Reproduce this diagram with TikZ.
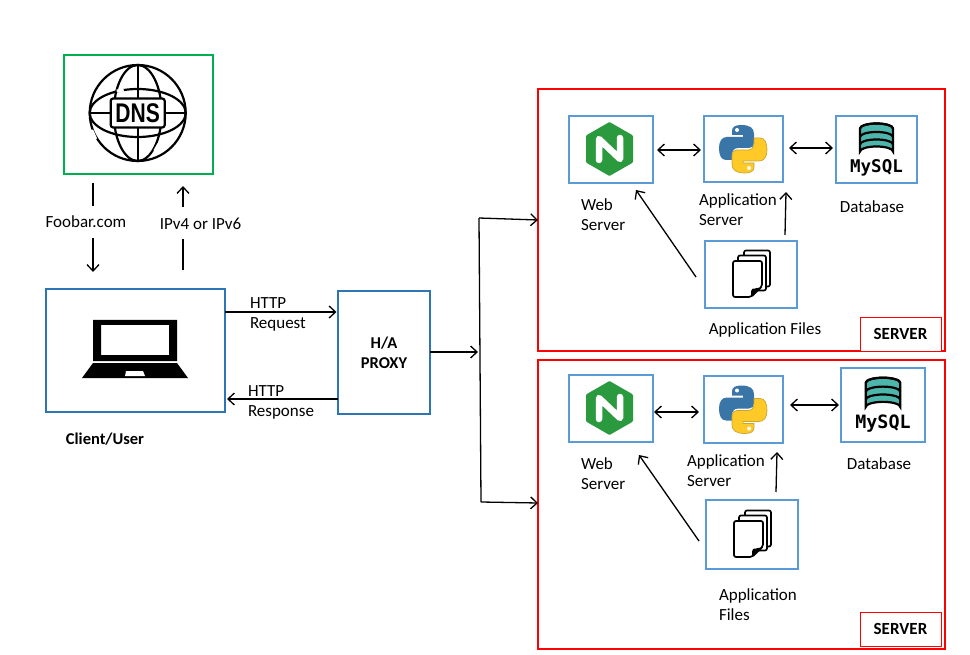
\documentclass[tikz,border=0pt]{standalone}
\usepackage{fontspec}
\setmainfont{Carlito}
\newfontfamily\dnsfont{Liberation Sans}
\newfontfamily\sqlfont{DejaVu Sans Mono}
\usetikzlibrary{arrows.meta,calc}
\definecolor{innerblue}{HTML}{5B9BD5}
\definecolor{outerblue}{HTML}{2E75B6}
\definecolor{dnsgreen}{HTML}{00B050}
\definecolor{ngreen}{HTML}{2B9A3F}
\definecolor{pyblue}{HTML}{3A75A8}
\definecolor{pyyellow}{HTML}{FFC928}
\definecolor{pyedge}{HTML}{C9A632}
\definecolor{dbteal}{HTML}{4DB6AC}
\tikzset{
  box/.style={draw,fill=white,outer sep=0pt,inner sep=0pt,line width=1.6pt},
  iconbox/.style={box,draw=innerblue},
  hostbox/.style={box,draw=outerblue},
  serverbox/.style={box,draw=red,line width=1.6pt},
  serverlabel/.style={box,draw=red,line width=.8pt,font=\fontsize{17}{18}\selectfont\bfseries},
  lbl/.style={inner sep=0pt,outer sep=0pt,align=left,font=\fontsize{17}{20}\selectfont},
  boldlbl/.style={lbl,font=\fontsize{16.5}{20}\selectfont\bfseries,align=center},
  conn/.style={line width=1.3pt,draw=black},
  arr/.style={conn,-{Straight Barb[length=6.5pt,width=12pt,line width=1.3pt]}},
  biarr/.style={conn,{Straight Barb[length=6.5pt,width=12pt,line width=1.3pt]}-{Straight Barb[length=6.5pt,width=12pt,line width=1.3pt]}},
  dnsicon/.pic={
    \begin{scope}[line width=2.2pt]
      \draw (0,0) circle [radius=48];
      \draw (0,0) ellipse [x radius=48,y radius=24];
      \draw (0,0) ellipse [x radius=24,y radius=48];
      \draw (-48,0) -- (48,0);
      \draw (0,-48) -- (0,48);
      \draw[white,line width=3pt] (-46,17) -- (-42,26);
      \draw[white,line width=3pt] (-21,-22) -- (-14,-23);
      \draw[white,line width=3pt] (17,38) -- (21,31);
      \draw[rounded corners=2.5pt,fill=white] (-27,-14.5) rectangle (27,14.5);
    \end{scope}
    \node[inner sep=0pt,xscale=.78,transform shape,font=\fontsize{27}{27}\selectfont\dnsfont\bfseries] at (0,0) {DNS};
  },
  laptopicon/.pic={
    \fill[even odd rule] (-42,-29) rectangle (42,12) (-34,-24) rectangle (34,6);
    \fill (-42,14) -- (42,14) -- (53,29) -- (-53,29) -- cycle;
    \fill[white] (-9,22) -- (8,22) -- (10,27) -- (-10,27) -- cycle;
  },
  nginxicon/.pic={
    \fill[ngreen,rounded corners=1pt] (0,-27) -- (23.5,-13.5) -- (23.5,13.5) -- (0,27) -- (-23.5,13.5) -- (-23.5,-13.5) -- cycle;
    \draw[white,line width=6.5pt,line cap=round,line join=round] (-10.5,11) -- (-10.5,-10) -- (10.5,10) -- (10.5,-11);
  },
  pythonicon/.pic={
    \def\snake{(-2,-24) .. controls (7,-24) and (11,-21) .. (11,-15) -- (11,-6) .. controls (11,-3) and (9,-1) .. (6,-1) -- (-5,-1) .. controls (-9,-1) and (-11,2) .. (-11,6) -- (-11,11) -- (-17,11) .. controls (-22,11) and (-24,6) .. (-24,-1) .. controls (-24,-8) and (-21,-12) .. (-16,-12) -- (0,-12) -- (0,-14) -- (-11,-14) -- (-11,-18) .. controls (-11,-22) and (-8,-24) .. (-2,-24) -- cycle}
    \fill[pyblue] \snake;
    \fill[white] (-6,-19) circle [radius=2];
    \begin{scope}[rotate=180]
      \path[fill=pyyellow,draw=pyedge,line width=.7pt] \snake;
      \fill[white] (-6,-19) circle [radius=2];
    \end{scope}
  },
  mysqlicon/.pic={
    \path[fill=dbteal,draw=black,line width=2.2pt] (-16.5,-21) -- (-16.5,2) arc [start angle=180,end angle=360,x radius=16.5,y radius=5] -- (16.5,-21) arc [start angle=0,end angle=-180,x radius=16.5,y radius=5] -- cycle;
    \begin{scope}[line width=2.2pt,draw=black]
      \draw (-16.5,-21) arc [start angle=180,end angle=360,x radius=16.5,y radius=5];
      \draw (-16.5,-12.5) arc [start angle=180,end angle=360,x radius=16.5,y radius=5];
      \draw (-16.5,-5) arc [start angle=180,end angle=360,x radius=16.5,y radius=5];
    \end{scope}
    \node[inner sep=0pt,transform shape,font=\fontsize{17.5}{17}\selectfont\sqlfont\bfseries] at (0,18) {MySQL};
  },
  filesicon/.pic={
    \begin{scope}[line width=1.7pt,line join=round,rounded corners=2pt]
      \path[fill=white,draw=black] (-7,-24) rectangle (19,12);
      \path[fill=white,draw=black] (-13,-19) rectangle (15,16);
      \path[fill=white,draw=black] (-18,-13.5) -- (11,-13.5) -- (11,12) -- (0,22.5) -- (-18,22.5) -- cycle;
    \end{scope}
    \fill (11,12.5) -- (0,22.5) -- (0,17) .. controls (0,15) and (2,13) .. (4,14) -- cycle;
  }
}
\begin{document}
\begin{tikzpicture}[x=1pt,y=-1pt]
\useasboundingbox (0,0) rectangle (970,655);
\fill[white] (0,0) rectangle (970,655);

% outer boxes
\node[box,draw=dnsgreen,minimum width=149pt,minimum height=119pt] (dns) at (138.5,114.5) {};
\node[hostbox,minimum width=179pt,minimum height=123pt] (client) at (135.5,350.5) {};
\node[hostbox,minimum width=92pt,minimum height=123pt,align=center,font=\fontsize{16.5}{20}\selectfont\bfseries] (proxy) at (384,352.5) {H/A\\PROXY};
\node[serverbox,minimum width=407pt,minimum height=262pt] (srvA) at (741.5,220) {};
\node[serverbox,minimum width=407pt,minimum height=289pt] (srvB) at (741.5,504.5) {};
\node[serverlabel,minimum width=81pt,minimum height=34pt] (srvAl) at (900.5,334) {\raisebox{-1pt}{SERVER}};
\node[serverlabel,minimum width=81pt,minimum height=34pt] (srvBl) at (900.5,629) {\raisebox{-1pt}{SERVER}};

% server A
\node[iconbox,minimum width=84pt,minimum height=67pt] (webA) at (611,149.5) {};
\node[iconbox,minimum width=79pt,minimum height=66pt] (appA) at (743.5,149) {};
\node[iconbox,minimum width=81pt,minimum height=67pt] (dbA) at (876.5,149.5) {};
\node[iconbox,minimum width=92pt,minimum height=67pt] (filesA) at (751,274.5) {};
% server B
\node[iconbox,minimum width=84pt,minimum height=67pt] (webB) at (611,408.5) {};
\node[iconbox,minimum width=79pt,minimum height=67pt] (appB) at (743.5,409.5) {};
\node[iconbox,minimum width=84pt,minimum height=74pt] (dbB) at (883,405) {};
\node[iconbox,minimum width=92pt,minimum height=69pt] (filesB) at (752,534.5) {};

% icons
\pic at (137.7,113) {dnsicon};
\pic at (135,349) {laptopicon};
\pic at ($(webA)+(-1.5,-.5)$) {nginxicon};
\pic at ($(webB)+(-1.5,-.5)$) {nginxicon};
\pic at ($(appA)+(-.5,0)$) {pythonicon};
\pic at ($(appB)+(-.5,0)$) {pythonicon};
\pic at (dbA) {mysqlicon};
\pic[scale=1.05] at (dbB) {mysqlicon};
\pic at (filesA) {filesicon};
\pic at (filesB) {filesicon};

% labels
\node[lbl] (foobar) at (86,222) {Foobar.com};
\node[lbl] (ipv) at (200.5,224) {IPv4 or IPv6};
\node[boldlbl] (clientl) at (105,439) {Client/User};
\node[lbl,anchor=west] (req) at (250,314) {HTTP\\Request};
\node[lbl,anchor=west] (resp) at (248,402) {HTTP\\Response};
\node[lbl,anchor=west] (webAl) at (581,215) {Web\\Server};
\node[lbl,anchor=west] (appAl) at (699,210) {Application\\Server};
\node[lbl] (dbAl) at (872,207) {Database};
\node[lbl] (filesAl) at (765,330) {Application Files};
\node[lbl,anchor=west] (webBl) at (581,474) {Web\\Server};
\node[lbl,anchor=west] (appBl) at (687,471) {Application\\Server};
\node[lbl] (dbBl) at (879,464) {Database};
\node[lbl,anchor=west] (filesBl) at (719,605) {Application\\Files};

% DNS exchange
\coordinate (fA) at (93,183);
\coordinate (fB) at (93,206);
\coordinate (fC) at (93,238);
\coordinate (fD) at (93,272);
\coordinate (iA) at (183,270);
\coordinate (iB) at (183,239);
\coordinate (iC) at (183,207);
\coordinate (iD) at (183,186);
\draw[conn] (fA) -- (fB);
\draw[arr] (fC) -- (fD);
\draw[conn] (iA) -- (iB);
\draw[arr] (iC) -- (iD);

% HTTP
\draw[arr] (client.east |- 0,312) -- ($(proxy.west |- 0,312)+(-1.5,0)$);
\draw[arr] (proxy.west |- 0,399) -- ($(client.east |- 0,399)+(2,0)$);

% proxy to servers
\coordinate (hub) at (478,352);
\coordinate (hubA) at (479,218);
\coordinate (hubB) at (481,502);
\draw[arr] (proxy.east |- hub) -- (hub);
\draw[conn] (hubA) -- (hubB);
\draw[arr] (hubA) -- (srvA.west |- 0,220);
\draw[arr] (hubB) -- (srvB.west |- 0,503);

% server A connectors
\draw[biarr,shorten <=4pt,shorten >=3pt] (webA.east |- 0,150) -- (appA.west |- 0,150);
\draw[biarr,shorten <=6pt,shorten >=3pt] (appA.east |- 0,148) -- (dbA.west |- 0,148);
\draw[arr] ($(filesA.west)+(-9,2.5)$) -- ($(webA.south east)+(-17,7)$);
\draw[arr] ($(filesA.north)+(34,-6)$) -- ($(appA.south east)+(3,10)$);
% server B connectors
\draw[biarr,shorten <=1pt,shorten >=5pt] (webB.east |- 0,412) -- (appB.west |- 0,412);
\draw[biarr,shorten <=7pt,shorten >=2pt] (appB.east |- 0,405) -- (dbB.west |- 0,405);
\draw[arr] ($(filesB.west)+(-7,6.5)$) -- ($(webB.south east)+(-14,13)$);
\draw[arr] ($(filesB.north)+(24,-8)$) -- ($(appB.south east)+(-6,9)$);
\end{tikzpicture}
\end{document}
